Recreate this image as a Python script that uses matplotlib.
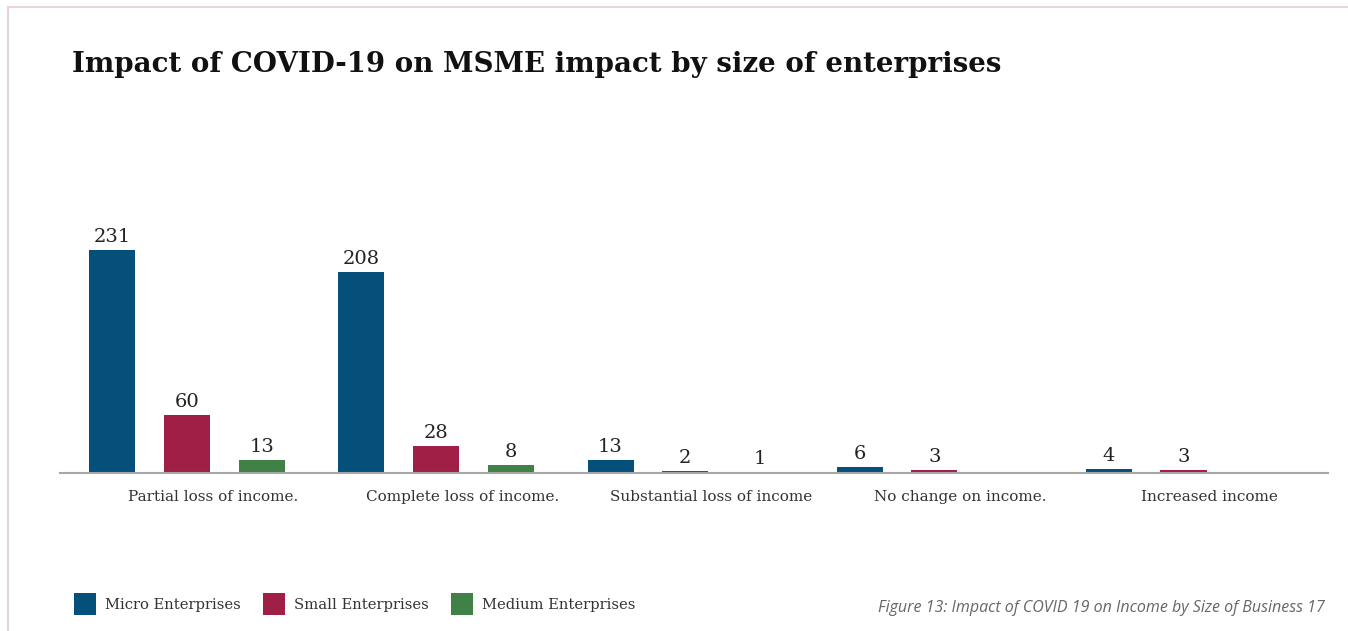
import matplotlib
matplotlib.use("Agg")
import matplotlib.pyplot as plt
from matplotlib.patches import Patch
from matplotlib.lines import Line2D
import numpy as np

categories = ["Partial loss of income.", "Complete loss of income.",
              "Substantial loss of income", "No change on income.", "Increased income"]
series_names = ["Micro Enterprises", "Small Enterprises", "Medium Enterprises"]
micro = [231, 208, 13, 6, 4]
small = [60, 28, 2, 3, 3]
medium = [13, 8, 1, None, None]

colors = ["#04507a", "#a01f46", "#3f8147"]
serif = "DejaVu Serif"

W, H = 1348, 631
fig = plt.figure(figsize=(W / 100, H / 100), dpi=100)
fig.patch.set_facecolor("white")

# thin pink frame along the top and left edges
border = "#ecd3da"
fig.add_artist(Line2D([8 / W, 1], [1 - 7 / H, 1 - 7 / H], color=border, lw=1.5,
                      transform=fig.transFigure))
fig.add_artist(Line2D([8 / W, 8 / W], [0, 1 - 7 / H], color=border, lw=1.5,
                      transform=fig.transFigure))

ax_left, ax_right = 60 / W, 1328 / W
ax_bottom, ax_top = (H - 473) / H, (H - 150) / H
ax = fig.add_axes([ax_left, ax_bottom, ax_right - ax_left, ax_top - ax_bottom])

x = np.arange(len(categories))
offset = 0.30
width = 0.185
for i, (vals, col) in enumerate(zip([micro, small, medium], colors)):
    for xi, v in zip(x, vals):
        if v is None:
            continue
        xp = xi + (i - 1) * offset
        ax.bar(xp, v, width=width, color=col, edgecolor="none", zorder=2)
        ax.annotate(str(v), (xp, v), xytext=(0, 3), textcoords="offset points",
                    ha="center", va="bottom", fontsize=14, family=serif,
                    color="#222222", clip_on=False)

ax.set_xlim(-0.51, 4.58)
ax.set_ylim(0, 323 * 231 / 223)
for s in ["top", "right", "left"]:
    ax.spines[s].set_visible(False)
ax.spines["bottom"].set_color("#a8a8a8")
ax.spines["bottom"].set_linewidth(1.5)
ax.set_yticks([])
ax.set_xticks(x + 0.105)
ax.set_xticklabels(categories, family=serif, fontsize=11, color="#333333")
ax.tick_params(axis="x", length=0, pad=12)
ax.patch.set_alpha(0)

fig.text(72 / W, 1 - 65 / H, "Impact of COVID-19 on MSME impact by size of enterprises",
         family=serif, fontweight="bold", fontsize=19.9, color="#111111",
         ha="left", va="center")

handles = [Patch(facecolor=c, edgecolor="none") for c in colors]
fig.legend(handles, series_names, loc="center left",
           bbox_to_anchor=(61 / W, 1 - 604 / H), ncol=3, frameon=False,
           prop={"family": serif, "size": 10.6}, handlelength=1.5, handleheight=2.0,
           handletextpad=0.6, columnspacing=1.5, labelcolor="#333333")

fig.text(1325 / W, 1 - 608 / H, "Figure 13: Impact of COVID 19 on Income by Size of Business 17",
         family="Open Sans", style="italic", fontsize=11.5, color="#666666",
         ha="right", va="center")

fig.savefig("out.png", dpi=100)
